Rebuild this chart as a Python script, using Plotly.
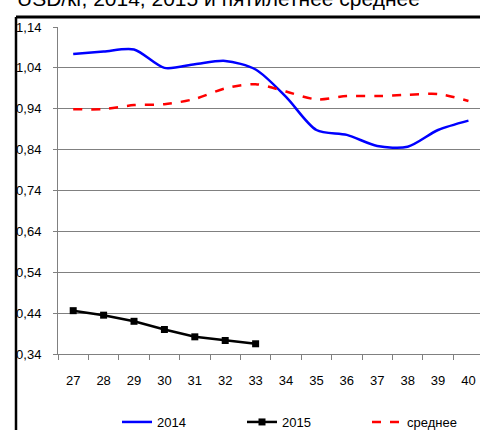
import plotly.graph_objects as go

weeks = ["27", "28", "29", "30", "31", "32", "33", "34", "35", "36", "37", "38", "39", "40"]
y2014 = [1.074, 1.080, 1.085, 1.040, 1.049, 1.057, 1.036, 0.969, 0.888, 0.876, 0.849, 0.847, 0.888, 0.911]
weeks2015 = ["27", "28", "29", "30", "31", "32", "33"]
y2015 = [0.446, 0.435, 0.420, 0.400, 0.382, 0.373, 0.365]
avg = [0.939, 0.939, 0.949, 0.951, 0.964, 0.990, 1.000, 0.982, 0.963, 0.971, 0.971, 0.974, 0.976, 0.959]
yticks = [0.34, 0.44, 0.54, 0.64, 0.74, 0.84, 0.94, 1.04, 1.14]
ytick_text = ["0,34", "0,44", "0,54", "0,64", "0,74", "0,84", "0,94", "1,04", "1,14"]
title_text = "USD/кг, 2014, 2015 и пятилетнее среднее"

FONT = "Liberation Sans, Arial, sans-serif"

W, H = 480, 430
L, R, T, B = 58, 0, 27, 76
pw, ph = W - L - R, H - T - B

def px(x):
    return (x - L) / pw

def py(y):
    return (H - B - y) / ph

fig = go.Figure()
fig.add_trace(go.Scatter(x=weeks, y=y2014, name="2014", mode="lines",
                         line=dict(color="#0000ff", width=2.5, shape="spline", smoothing=0.8)))
fig.add_trace(go.Scatter(x=weeks2015, y=y2015, name="2015", mode="lines+markers",
                         line=dict(color="#000000", width=2.5),
                         marker=dict(symbol="square", size=7, color="#000000")))
fig.add_trace(go.Scatter(x=weeks, y=avg, name="среднее", mode="lines",
                         line=dict(color="#ff0000", width=2.5, dash="dash", shape="spline", smoothing=0.8)))

fig.update_layout(
    width=W, height=H,
    margin=dict(l=L, r=R, t=T, b=B, autoexpand=False),
    paper_bgcolor="white", plot_bgcolor="white",
    font=dict(family=FONT, size=13, color="#000000"),
    showlegend=True,
    legend=dict(orientation="h", xref="container", yref="container",
                x=117 / W, xanchor="left", y=1 - 422 / H, yanchor="middle",
                entrywidth=80, font=dict(family=FONT, size=13), bgcolor="rgba(0,0,0,0)"),
    xaxis=dict(type="category", range=[-0.5, 13.38], showgrid=False, showline=True,
               linecolor="#808080", linewidth=1, ticks="outside", ticklen=5, tickcolor="#808080",
               tickson="boundaries", ticklabelstandoff=14, tickfont=dict(family=FONT, size=13)),
    yaxis=dict(range=[0.34, 1.14], tickvals=yticks, ticktext=ytick_text, showgrid=True,
               gridcolor="#808080", gridwidth=1, showline=True, linecolor="#808080", linewidth=1,
               ticks="outside", ticklen=4, tickcolor="#808080", ticklabelstandoff=9,
               zeroline=False, tickfont=dict(family=FONT, size=13)),
    shapes=[
        dict(type="line", xref="paper", yref="paper", x0=px(16), x1=px(480), y0=py(17), y1=py(17),
             line=dict(color="#000000", width=3)),
        dict(type="line", xref="paper", yref="paper", x0=px(16), x1=px(16), y0=py(17), y1=py(432),
             line=dict(color="#000000", width=2.5)),
    ],
    annotations=[
        dict(text=title_text, xref="paper", yref="paper", x=px(15), y=py(-2), xanchor="left",
             yanchor="middle", showarrow=False, font=dict(family=FONT, size=21))
    ],
)

fig.write_html("out.html", config={"displayModeBar": False},
               post_script="document.body.style.margin='0';document.body.style.overflow='hidden';")
